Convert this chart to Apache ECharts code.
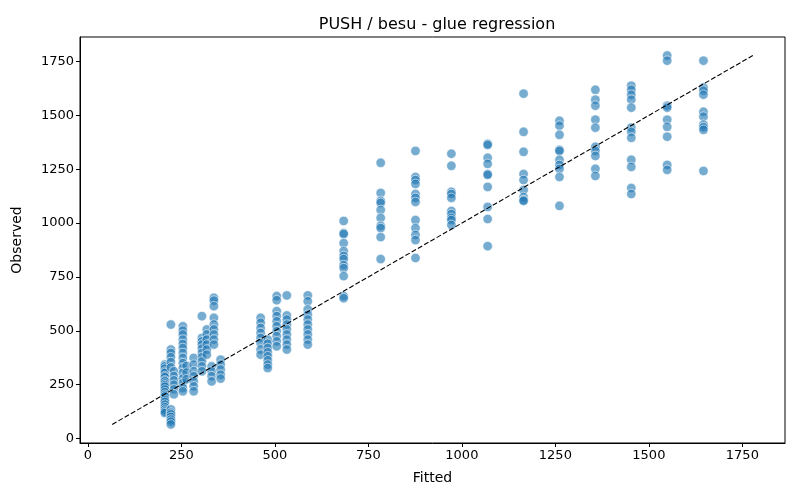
<!DOCTYPE html>
<html>
<head>
<meta charset="utf-8">
<title>PUSH / besu - glue regression</title>
<script src="https://cdn.jsdelivr.net/npm/echarts@6/dist/echarts.min.js"></script>
<style>
    html, body { margin: 0; padding: 0; background: #fff; }
    #chart { width: 800px; height: 500px; }
</style>
</head>
<body>
<div id="chart"></div>
<script>
// fitted value of each vertical group of points
var fittedLevels = [206, 222, 230, 254, 264, 283, 305, 318, 331, 337, 355,
    462, 481, 505, 532, 588, 684, 783, 876, 972, 1069, 1165, 1261, 1357, 1453, 1549, 1646];

// observed values for each group (same order as fittedLevels)
var observedGroups = [
    [343, 335, 324, 310, 304, 290, 284, 270, 265, 255, 247, 240, 227, 215, 203, 195, 180, 170, 157, 145, 134, 125, 118],
    [529, 413, 397, 377, 355, 330, 135, 120, 112, 100, 88, 78, 65],
    [312, 290, 270, 250, 228, 205],
    [521, 501, 483, 459, 439, 420, 397, 374, 350, 327, 304, 278, 257, 234, 219],
    [337, 306, 275],
    [374, 343, 312, 289, 265, 242, 219],
    [568, 467, 451, 436, 417, 397, 378, 358, 335, 312],
    [506, 483, 459, 436, 413, 389],
    [335, 312, 289, 265],
    [653, 640, 614, 560, 529, 506, 483, 459, 436],
    [366, 343, 320, 296, 278],
    [560, 537, 513, 490, 467, 443, 413, 389],
    [459, 440, 420, 400, 382, 363, 343, 327],
    [661, 642, 591, 568, 544, 521, 498, 475, 451, 428],
    [664, 571, 552, 529, 506, 483, 459, 436, 413],
    [664, 637, 599, 575, 552, 529, 506, 483, 459, 436],
    [1010, 954, 949, 907, 870, 847, 833, 805, 791, 754, 661, 651],
    [1280, 1140, 1103, 1094, 1061, 1024, 987, 977, 935, 833],
    [1335, 1214, 1200, 1182, 1135, 1117, 1098, 1014, 977, 945, 921, 838],
    [1322, 1266, 1145, 1135, 1117, 1056, 1042, 1024, 1014, 991],
    [1368, 1363, 1303, 1275, 1228, 1224, 1168, 1075, 1019, 893],
    [1601, 1424, 1331, 1228, 1200, 1154, 1121, 1107, 1103],
    [1475, 1452, 1410, 1340, 1335, 1294, 1270, 1252, 1214, 1080],
    [1619, 1573, 1545, 1480, 1443, 1354, 1335, 1312, 1252, 1219],
    [1638, 1619, 1596, 1573, 1536, 1443, 1424, 1396, 1294, 1261, 1163, 1135],
    [1778, 1754, 1545, 1536, 1480, 1447, 1401, 1270, 1247],
    [1754, 1629, 1615, 1596, 1517, 1494, 1457, 1445, 1433, 1242]
];

var tickValues = [0, 250, 500, 750, 1000, 1250, 1500, 1750];
var axisMin = -21;
var axisMax = 1864;

var points = [];
var lo = Infinity, hi = -Infinity;
fittedLevels.forEach(function(fx, i){
    observedGroups[i].forEach(function(v){
        points.push([fx, v]);
        lo = Math.min(lo, fx, v);
        hi = Math.max(hi, fx, v);
    });
});
// identity line spans the whole data range
var diagonal = [[lo, lo], [hi, hi]];

function makeAxis(name, gap){
    return {
        type: 'value',
        min: axisMin,
        max: axisMax,
        name: name,
        nameLocation: 'middle',
        nameGap: gap,
        nameTextStyle: { color: '#000', fontSize: 14, fontFamily: 'DejaVu Sans' },
        splitLine: { show: false },
        axisLine: { show: true, onZero: false, lineStyle: { color: '#000', width: 1 } },
        axisTick: { show: true, length: 4, customValues: tickValues, lineStyle: { color: '#000' } },
        axisLabel: {
            color: '#000', fontSize: 13, fontFamily: 'DejaVu Sans', margin: 6,
            customValues: tickValues,
            formatter: function(v){ return String(v); }
        }
    };
}

var myChart = echarts.init(document.getElementById('chart'));
myChart.setOption({
    animation: false,
    title: {
        text: 'PUSH / besu - glue regression',
        left: 432,
        top: 12,
        textAlign: 'center',
        textStyle: { color: '#000', fontSize: 16, fontWeight: 'normal', fontFamily: 'DejaVu Sans' }
    },
    grid: {
        left: 80, right: 15, top: 37, bottom: 57,
        show: true, borderColor: '#000', borderWidth: 1
    },
    xAxis: makeAxis('Fitted', 28),
    yAxis: makeAxis('Observed', 56),
    series: [{
        type: 'scatter',
        data: points,
        symbolSize: 9.5,
        itemStyle: {
            color: 'rgba(31,119,180,0.76)',
            borderColor: '#fff',
            borderWidth: 0.7
        }
    }, {
        type: 'line',
        data: diagonal,
        symbol: 'none',
        z: 5,
        lineStyle: { color: '#000', width: 1.1, type: [5, 2.2] }
    }]
});
</script>
</body>
</html>
